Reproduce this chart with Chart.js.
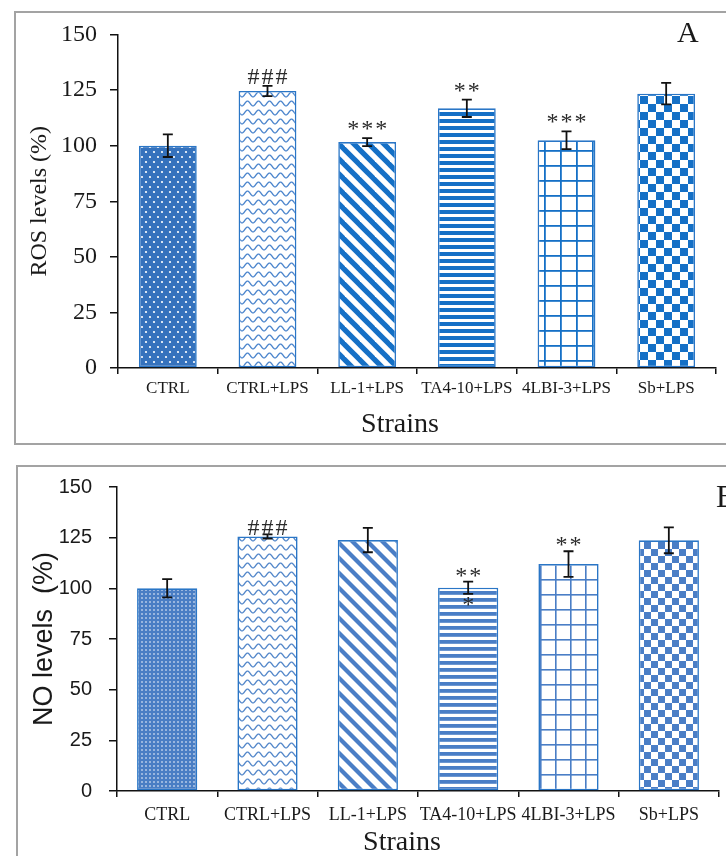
<!DOCTYPE html>
<html><head><meta charset="utf-8">
<script src="https://cdn.jsdelivr.net/npm/chart.js@4.4.1/dist/chart.umd.min.js"></script>
<style>
html,body{margin:0;padding:0;background:#fff;width:726px;height:856px;overflow:hidden;position:relative;}
.panel{position:absolute;border:2px solid #a3a3a3;background:#fff;}
#p1{left:14px;top:11px;width:780px;height:430px;}
#p2{left:16px;top:465px;width:780px;height:430px;}
canvas{position:absolute;left:0;}
#c1{top:0;}
#c2{top:444px;}
</style></head>
<body>
<div class="panel" id="p1"></div>
<div class="panel" id="p2"></div>
<canvas id="c1" width="726" height="444"></canvas>
<canvas id="c2" width="726" height="412"></canvas>
<script>
// ---------- data ----------
const categories = ['CTRL', 'CTRL+LPS', 'LL-1+LPS', 'TA4-10+LPS', '4LBI-3+LPS', 'Sb+LPS'];
const rosValues = [100, 124.6, 101.6, 116.8, 102.4, 123.4];
const rosErrors = [5.1, 2.3, 1.8, 3.9, 4.0, 4.8];
const rosMarks = ['', '###', '***', '**', '***', ''];
const noValues = [100, 125.6, 123.8, 100.3, 112, 123.7];
const noErrors = [4.5, 1.0, 6.0, 3.0, 6.3, 6.4];
const noMarksAbove = ['', '###', '', '**', '**', ''];
const noMarksBelow = ['', '', '', '*', '', ''];
const yTicks = [0, 25, 50, 75, 100, 125, 150];

// ---------- patterns ----------
function tile(w, h, draw) {
  const c = document.createElement('canvas');
  c.width = w; c.height = h;
  const g = c.getContext('2d');
  draw(g, w, h);
  return document.createElement('canvas').getContext('2d').createPattern(c, 'repeat');
}
function dots(base, w, h, pts, r) {
  return tile(w, h, (g) => {
    g.fillStyle = base; g.fillRect(0, 0, w, h);
    g.fillStyle = '#ffffff';
    pts.forEach(p => { g.beginPath(); g.arc(p[0], p[1], r, 0, Math.PI * 2); g.fill(); });
  });
}
function waves(col, w, h, amp, lw) {
  return tile(w, h, (g) => {
    g.fillStyle = '#fff'; g.fillRect(0, 0, w, h);
    g.strokeStyle = col; g.lineWidth = lw;
    g.beginPath();
    for (let x = 0; x <= w; x += 0.5) {
      const y = h / 2 + amp * Math.cos(2 * Math.PI * x / w);
      if (x === 0) g.moveTo(x, y); else g.lineTo(x, y);
    }
    g.stroke();
  });
}
function diag(col, s, lw) {
  return tile(s, s, (g) => {
    g.fillStyle = '#fff'; g.fillRect(0, 0, s, s);
    g.strokeStyle = col; g.lineWidth = lw;
    for (let k = -1; k <= 1; k++) {
      g.beginPath(); g.moveTo(k * s - 2, -2); g.lineTo(k * s + s + 2, s + 2); g.stroke();
    }
  });
}
function hstripes(col, h, bh) {
  return tile(4, h, (g) => {
    g.fillStyle = '#fff'; g.fillRect(0, 0, 4, h);
    g.fillStyle = col; g.fillRect(0, 0, 4, bh);
  });
}
function grid(col, w, h, lw) {
  return tile(w, h, (g) => {
    g.fillStyle = '#fff'; g.fillRect(0, 0, w, h);
    g.fillStyle = col; g.fillRect(0, 0, lw, h); g.fillRect(0, 0, w, lw);
  });
}
function checker(col, s) {
  return tile(2 * s, 2 * s, (g) => {
    g.fillStyle = '#fff'; g.fillRect(0, 0, 2 * s, 2 * s);
    g.fillStyle = col; g.fillRect(0, 0, s, s); g.fillRect(s, s, s, s);
  });
}

const blueA = '#1570c6';
const blueB = '#4a7ec6';
const topFills = [
  dots('#3572bd', 8, 10, [[2, 2], [6, 7]], 1.1),
  waves('#4a84cc', 11, 9, 2.4, 1.3),
  diag(blueA, 15, 5.2),
  hstripes(blueA, 7, 4),
  grid(blueA, 16, 15, 1.8),
  checker(blueA, 8)
];
const botFills = [
  dots('#4a7ec4', 4, 4, [[2, 2]], 0.8),
  waves('#5286c9', 11, 9, 2.4, 1.3),
  diag(blueB, 15, 4.2),
  hstripes(blueB, 7, 3.8),
  grid(blueB, 15, 15, 1.6),
  checker(blueB, 7)
];

// ---------- plugin (error bars, marks, extra labels) ----------
function overlay(cfg) {
  return {
    id: 'overlay_' + cfg.letter,
    afterDatasetsDraw(chart) {
      const ctx = chart.ctx;
      const meta = chart.getDatasetMeta(0);
      const ys = chart.scales.y;
      ctx.save();
      ctx.strokeStyle = '#111';
      ctx.lineWidth = 1.8;
      meta.data.forEach((bar, i) => {
        const v = cfg.values[i], e = cfg.errors[i];
        const yT = ys.getPixelForValue(v + e), yB = ys.getPixelForValue(v - e);
        ctx.beginPath();
        ctx.moveTo(bar.x, yT); ctx.lineTo(bar.x, yB);
        ctx.moveTo(bar.x - 5, yT); ctx.lineTo(bar.x + 5, yT);
        ctx.moveTo(bar.x - 5, yB); ctx.lineTo(bar.x + 5, yB);
        ctx.stroke();
        ctx.fillStyle = '#2a2a2a';
        ctx.font = cfg.markFont;
        ctx.textAlign = 'center';
        ctx.textBaseline = 'alphabetic';
        if ('letterSpacing' in ctx) ctx.letterSpacing = '2px';
        if (cfg.above[i]) ctx.fillText(cfg.above[i], bar.x + 1, yT + cfg.aboveShift);
        if (cfg.below && cfg.below[i]) ctx.fillText(cfg.below[i], bar.x + 1, yB + cfg.belowShift);
        if ('letterSpacing' in ctx) ctx.letterSpacing = '0px';
      });
      ctx.fillStyle = '#1a1a1a';
      ctx.textAlign = 'center';
      ctx.textBaseline = 'middle';
      ctx.font = cfg.xTitleFont;
      ctx.fillText('Strains', cfg.xTitleX, cfg.xTitleY);
      ctx.textAlign = 'left';
      ctx.font = cfg.letterFont;
      ctx.fillText(cfg.letter, cfg.letterX, cfg.letterY);
      ctx.restore();
    }
  };
}

function makeChart(id, o) {
  return new Chart(document.getElementById(id), {
    type: 'bar',
    data: {
      labels: categories,
      datasets: [{
        data: o.values,
        backgroundColor: o.fills,
        borderColor: '#2a76c6',
        borderWidth: 1.6,
        borderSkipped: false,
        categoryPercentage: 1,
        barPercentage: o.barPct
      }]
    },
    options: {
      responsive: false,
      animation: false,
      devicePixelRatio: 1,
      layout: { padding: { left: 0, right: o.padRight, top: o.padTop, bottom: 0 } },
      plugins: { legend: { display: false }, tooltip: { enabled: false } },
      scales: {
        x: {
          offset: true,
          grid: { display: true, offset: true, drawOnChartArea: false, drawTicks: true, tickLength: 6, color: '#111', lineWidth: 1.5 },
          border: { display: true, color: '#111', width: 1.5 },
          ticks: { color: '#1a1a1a', font: o.catFont, padding: o.catPad, maxRotation: 0, autoSkip: false },
          afterFit: (s) => { s.height = o.xHeight; }
        },
        y: {
          min: 0, max: 150,
          afterBuildTicks: (s) => { s.ticks = yTicks.map(v => ({ value: v })); },
          grid: { display: true, drawOnChartArea: false, drawTicks: true, tickLength: 8, color: '#111', lineWidth: 1.5 },
          border: { display: true, color: '#111', width: 1.5 },
          ticks: { color: '#1a1a1a', font: o.tickFont, padding: o.tickPad },
          title: { display: true, text: o.yTitle, color: '#1a1a1a', font: o.yTitleFont, padding: { top: o.yTitlePad, bottom: 0 } },
          afterFit: (s) => { s.width = o.yWidth; }
        }
      }
    },
    plugins: [overlay(o.overlay)]
  });
}

makeChart('c1', {
  values: rosValues, fills: topFills, barPct: 0.58,
  padRight: 10, padTop: 34.5, xHeight: 76, yWidth: 118,
  catFont: { family: 'Liberation Serif', size: 17 }, catPad: 4,
  tickFont: { family: 'Liberation Serif', size: 24 }, tickPad: 13,
  yTitle: 'ROS levels (%)', yTitleFont: { family: 'Liberation Serif', size: 24 }, yTitlePad: 25.6,
  overlay: {
    letter: 'A', values: rosValues, errors: rosErrors, above: rosMarks, below: null,
    aboveShift: -2, belowShift: 0, markFont: '24px "Liberation Serif"',
    xTitleFont: '28px "Liberation Serif"', xTitleX: 400, xTitleY: 425,
    letterFont: '30px "Liberation Serif"', letterX: 677, letterY: 34
  }
});

makeChart('c2', {
  values: noValues, fills: botFills, barPct: 0.6,
  padRight: 7, padTop: 43, xHeight: 65, yWidth: 117,
  catFont: { family: 'Liberation Serif', size: 18 }, catPad: 7,
  tickFont: { family: 'Liberation Sans', size: 20 }, tickPad: 17,
  yTitle: 'NO levels  (%)', yTitleFont: { family: 'Liberation Sans', size: 27 }, yTitlePad: 28,
  overlay: {
    letter: 'B', values: noValues, errors: noErrors, above: noMarksAbove, below: noMarksBelow,
    aboveShift: 1, belowShift: 18, markFont: '24px "Liberation Serif"',
    xTitleFont: '28px "Liberation Serif"', xTitleX: 402, xTitleY: 399,
    letterFont: '31px "Liberation Serif"', letterX: 716, letterY: 55
  }
});
</script>
</body></html>
